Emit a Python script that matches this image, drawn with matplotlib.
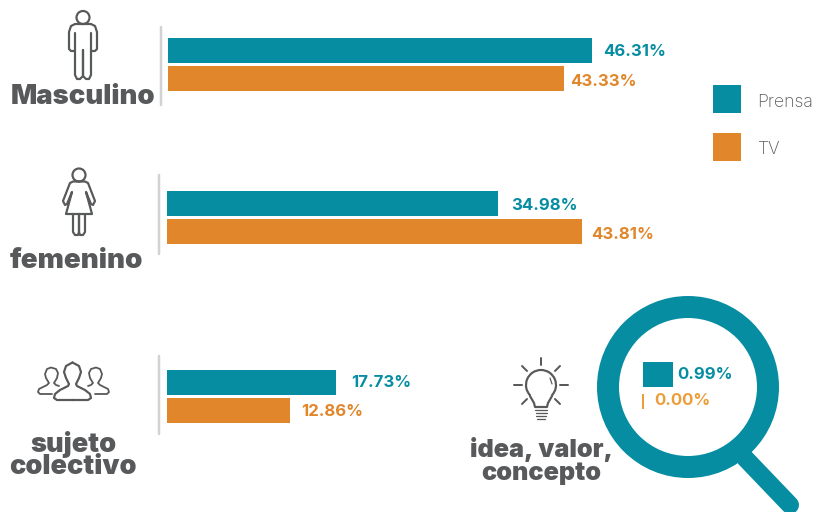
import matplotlib
matplotlib.use("Agg")
import matplotlib.pyplot as plt
from matplotlib.patches import Circle, Rectangle, Arc

W, H = 816, 512
TEAL = '#068da2'
ORANGE = '#e1862a'
ORANGE_LIGHT = '#ec9d38'
GREY = '#58595b'
RULE = '#d2d2d2'

# Values per group (percent)
series_names = ['Prensa', 'TV']
masculino = [46.31, 43.33]
femenino = [34.98, 43.81]
colectivo = [17.73, 12.86]
idea = [0.99, 0.00]

fig = plt.figure(figsize=(W / 100, H / 100), dpi=100, facecolor='white')

# Background axes in pixel coordinates, for icons and labels
bg = fig.add_axes([0, 0, 1, 1])
bg.set_xlim(0, W)
bg.set_ylim(H, 0)
bg.axis('off')


def px(v):
    # pixels to points at dpi 100
    return v * 0.72


def line(pts, lw=2.2, color=GREY, zorder=3):
    xs = [p[0] for p in pts]
    ys = [p[1] for p in pts]
    bg.plot(xs, ys, color=color, lw=px(lw), solid_capstyle='round', solid_joinstyle='round', zorder=zorder)


def mirror(pts, c):
    return [(2 * c - x, y) for x, y in pts]


def bar_group(x0, top, px_per_unit, values, pads, drops, colors, width=330, height=25, pitch=28):
    # one small axes per group, the original scales differ from group to group
    left = x0 / W
    bottom = 1 - (top + 2 * pitch - (pitch - height) / 2) / H
    ax = fig.add_axes([left, bottom, width / W, 2 * pitch / H], zorder=2)
    ax.patch.set_alpha(0)
    ax.set_xlim(0, width / px_per_unit)
    ax.set_ylim(1.5, -0.5)
    ax.axis('off')
    ax.barh([0, 1], values, height=height / pitch, color=colors)
    for i, v in enumerate(values):
        txt = ax.annotate(f'{v:.2f}%', (v, i), xytext=(px(pads[i]), -px(drops[i])), textcoords='offset points',
                          va='center', ha='left', color=colors[i], fontsize=12, family='Inter',
                          weight='bold', annotation_clip=False)
    return ax


colors = [TEAL, ORANGE]
bar_group(167.5, 38, 9.16, masculino, [11, 6], [1.5, 3.5], colors, width=600)
bar_group(167, 191, 9.47, femenino, [13, 9], [1.5, 3], colors, width=600)
bar_group(167, 370, 9.55, colectivo, [15, 11], [0, 1.5], colors, width=600)

# Group separators
for x, y0, y1 in [(160.5, 27, 105), (159, 175, 254), (159, 356, 434)]:
    line([(x, y0), (x, y1)], lw=2.5, color=RULE)

# Category labels
label_style = dict(family='Inter', weight='black', color=GREY, ha='center', va='center')
bg.text(83, 97, 'Masculino', fontsize=19.8, **label_style)
bg.text(76, 261, 'femenino', fontsize=20, **label_style)
bg.text(73, 455, 'sujeto\ncolectivo', fontsize=19.5, linespacing=0.8, **label_style)
bg.text(541, 461, 'idea, valor,\nconcepto', fontsize=18.2, linespacing=1.0, **label_style)

# Legend
for y, c, name, tx, dy in [(85, TEAL, series_names[0], 757, 17.5), (133, ORANGE, series_names[1], 758, 16)]:
    bg.add_patch(Rectangle((713, y), 28, 28, color=c, lw=0))
    bg.text(tx, y + dy, name, fontsize=12.7, family='Inter', weight='light', color=GREY, va='center')

# Magnifier
line([(745, 458), (790, 505)], lw=18, color=TEAL)
bg.add_patch(Circle((688, 387), 80, fill=False, ec=TEAL, lw=px(22), zorder=3))

# Bars inside the magnifier
inset = bar_group(643, 362, 30.3, idea, [4, 11], [0, -2], [TEAL, ORANGE_LIGHT], width=120)
inset.patches[1].set_visible(False)
inset.plot([0, 0], [0.68, 1.24], color=ORANGE_LIGHT, lw=px(2), solid_capstyle='butt', clip_on=False)

# Male icon
bg.add_patch(Circle((83, 17.5), 6.5, fill=False, ec=GREY, lw=px(2.2), zorder=3))
male = [(83, 24), (75, 24), (71, 26), (69, 32), (69, 49), (71, 51), (74, 51)]
male_leg = [(75, 33), (75, 75), (77, 79), (80, 79), (83, 76), (83, 50)]
line(male)
line(mirror(male, 83))
line(male_leg)
line(mirror(male_leg, 83))

# Female icon
bg.add_patch(Circle((79, 175), 6.5, fill=False, ec=GREY, lw=px(2.2), zorder=3))
female = [(79, 181.5), (73, 181.5), (70, 183), (63, 201), (65, 205), (67, 204), (72, 192), (66, 214), (79, 214)]
female_leg = [(73, 214), (73, 232), (75, 235), (78, 235), (79, 232), (79, 214)]
line(female)
line(mirror(female, 79))
line(female_leg)
line(mirror(female_leg, 79))

# Group icon
centre = [(73, 400), (57, 400), (54, 398), (55, 394), (60, 390), (68, 386), (69, 384), (66, 378), (64, 372),
          (66, 366), (72.5, 362.5)]
side = [(52, 394), (40, 394), (38, 392), (39, 389), (47, 385), (49, 383), (46, 378), (45, 374), (47, 369),
        (51, 367.5), (56, 369), (58, 373), (57, 378), (54, 383), (56, 385), (59, 386)]
line(centre)
line(mirror(centre, 72.5))
line(side, lw=1.8)
line(mirror(side, 73.5), lw=1.8)

# Bulb icon
bg.add_patch(Arc((541, 385), 30, 30, theta1=135, theta2=45, ec=GREY, lw=px(2.2), zorder=3))
bulb = [(530, 396), (534, 403), (535, 407), (541, 407)]
line(bulb)
line(mirror(bulb, 541))
line([(550, 378), (552, 384)], lw=1.2)
for y, half in [(410, 6), (413, 5.5), (416, 5), (418.5, 4)]:
    line([(541 - half, y), (541 + half, y)], lw=1.3)
for pts in [[(541, 358), (541, 365)], [(514, 385), (522, 385)], [(560, 385), (568, 385)],
            [(522, 366), (527, 371)], [(560, 366), (555, 371)], [(522, 404), (527, 399)], [(560, 404), (555, 399)]]:
    line(pts, lw=2)

fig.savefig('out.png', dpi=100, facecolor='white')
